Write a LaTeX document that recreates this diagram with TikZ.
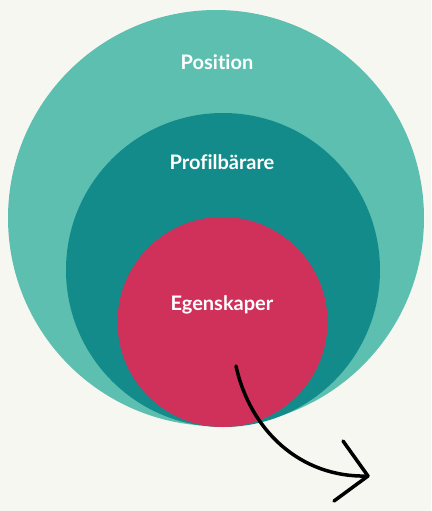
\documentclass[tikz,border=0pt]{standalone}
\usepackage{fontspec}
\setmainfont{Lato}[Ligatures=NoCommon]
\definecolor{bgc}{HTML}{F7F7F2}
\definecolor{outerc}{HTML}{5CBFB0}
\definecolor{midc}{HTML}{138B8A}
\definecolor{innerc}{HTML}{D0315B}
\tikzset{lbl/.style={text=white,font=\fontsize{20}{23}\selectfont\bfseries}}
\begin{document}
\begin{tikzpicture}[x=1pt,y=-1pt]
\fill[bgc] (0,0) rectangle (431,511);
\useasboundingbox (0,0) rectangle (431,511);
\fill[outerc] (216,218) circle (208);
\fill[midc] (223,270) circle (157);
\fill[innerc] (222.5,322) circle (105);
\node[lbl] (pos) at (217,62) {Position};
\node[lbl] (prof) at (222,162) {Profilbärare};
\node[lbl] (egen) at (222,305) {Egenskaper};
\coordinate (s) at (236,366);
\coordinate (e) at (368,476);
\coordinate (h1) at (343,441);
\coordinate (h2) at (334,501);
\draw[line width=3.5pt,line cap=round,line join=round] (s) .. controls (250,430) and (300,478) .. (e);
\draw[line width=3.5pt,line cap=round,line join=round] (h1) -- (e) -- (h2);
\end{tikzpicture}
\end{document}
